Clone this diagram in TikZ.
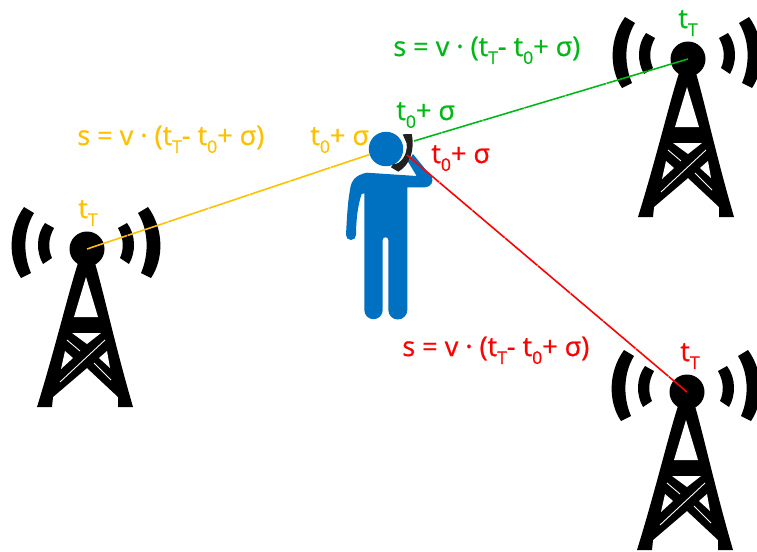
\documentclass[tikz,border=0pt]{standalone}
\usepackage{fontspec}
\setmainfont[FakeBold=0.7]{Open Sans}
\usepackage{xcolor}
\definecolor{Amber}{HTML}{FFC000}
\definecolor{Leaf}{HTML}{00B815}
\definecolor{Signal}{HTML}{FF0000}
\definecolor{Figure}{HTML}{0070C0}
\newcommand{\lowtxt}[1]{\raisebox{-0.55ex}{\fontsize{10}{11}\selectfont #1}}
\tikzset{
  label/.style={anchor=base west,inner sep=0pt,font=\fontsize{15.4}{17}\selectfont},
  ray/.style={line width=0.9pt,dash pattern=on 24pt off 0.4pt},
  tower/.pic={
    % silhouette, then the cut-outs
    \fill[black] (0,0) circle (17.5);
    \fill[black] (-9,14) .. controls (-19,45) and (-32,100) .. (-50,158) -- (-35,158) -- (-34,148)
      -- (0,119) -- (31,148) -- (31,158) -- (46,158) .. controls (29,100) and (17,45) .. (8,14) -- cycle;
    \fill[white] (-1,28) -- (-13,68) -- (11,68) -- cycle;
    \fill[white] (-15,84) -- (14,84) -- (0,95) -- cycle;
    \fill[white] (-22,102) -- (-14,109) -- (-26,120) -- cycle;
    \fill[white] (20,102) -- (23,119) -- (12,109) -- cycle;
    \draw[white,line width=0.5pt] (-20,91) -- (-7,102);
    \draw[white,line width=0.5pt] (18,91) -- (-27,133);
    \draw[white,line width=0.5pt] (7,114) -- (24,131);
    \foreach \s in {1,-1} {
      \begin{scope}[shift={(-1,0)},xscale=\s]
        \fill[black] (41,-26) -- (32,-21) .. controls (38,-10) and (38,0) .. (34,9)
          -- (43,15) .. controls (50,3) and (50,-14) .. cycle;
        \fill[black] (62,-42) -- (52,-36) .. controls (64,-16) and (62,8) .. (55,24)
          -- (65,29) .. controls (78,10) and (78,-20) .. cycle;
      \end{scope}
    }
  }
}
\begin{document}
\begin{tikzpicture}[x=0.02cm,y=-0.02cm]
  \useasboundingbox (0,0) rectangle (757,551);
  \coordinate (towerleft) at (87,249);
  \coordinate (towertop) at (688,59);
  \coordinate (towerright) at (687,392);
  \pic at (towerleft) {tower};
  \pic at (towertop) {tower};
  \pic at (towerright) {tower};

  % person
  \node[circle,fill=Figure,minimum size=0.69cm,inner sep=0pt] (head) at (386,149) {};
  \fill[Figure] (366.7,172.7) -- (416.7,176) -- (408,161.7) -- (413,154) -- (431.7,177)
    .. controls (434,181) and (431,187.3) .. (425,187.3) -- (407.3,187.3) -- (407.3,310)
    arc[start angle=0,end angle=180,radius=9.5] -- (388.3,240)
    arc[start angle=0,end angle=-180,radius=2.8] -- (382.7,310)
    arc[start angle=0,end angle=180,radius=9.2] -- (364.3,193.3) -- (361.7,194)
    .. controls (358,204) and (356,220) .. (356,235)
    arc[start angle=0,end angle=180,radius=5] .. controls (347,215) and (348,200) .. (350,190)
    .. controls (351,180) and (356,175) .. (366.7,172.7) -- cycle;
  \fill[black!87] (402.7,134.3) -- (411.7,134) .. controls (415,150) and (410,165) .. (398.3,171.7)
    -- (391,167.3) -- (393.3,164) .. controls (400,165) and (408,155) .. (406.7,143.3) -- cycle;
  \coordinate (phonegreen) at (414,141);
  \coordinate (phonered) at (407,155);

  \draw[ray,Amber] (towerleft) -- (head);
  \draw[ray,Leaf] (towertop) -- (phonegreen);
  \draw[ray,Signal] (phonered) -- (towerright);

  \node[label,text=Amber] (formulaleft) at (77,145) {s = v · (t\lowtxt{T}- t\lowtxt{0}+ σ)};
  \node[label,text=Leaf] (formulatop) at (393,56) {s = v · (t\lowtxt{T}- t\lowtxt{0}+ σ)};
  \node[label,text=Signal] (formularight) at (402,356) {s = v · (t\lowtxt{T}- t\lowtxt{0}+ σ)};
  \node[label,text=Amber] (timeleft) at (78,218) {t\lowtxt{T}};
  \node[label,text=Leaf] (timetop) at (678,28) {t\lowtxt{T}};
  \node[label,text=Signal] (timeright) at (680,361) {t\lowtxt{T}};
  \node[label,text=Amber] (stampleft) at (310,145) {t\lowtxt{0}+ σ};
  \node[label,text=Leaf] (stamptop) at (396,120) {t\lowtxt{0}+ σ};
  \node[label,text=Signal] (stampright) at (431,163) {t\lowtxt{0}+ σ};
\end{tikzpicture}
\end{document}
